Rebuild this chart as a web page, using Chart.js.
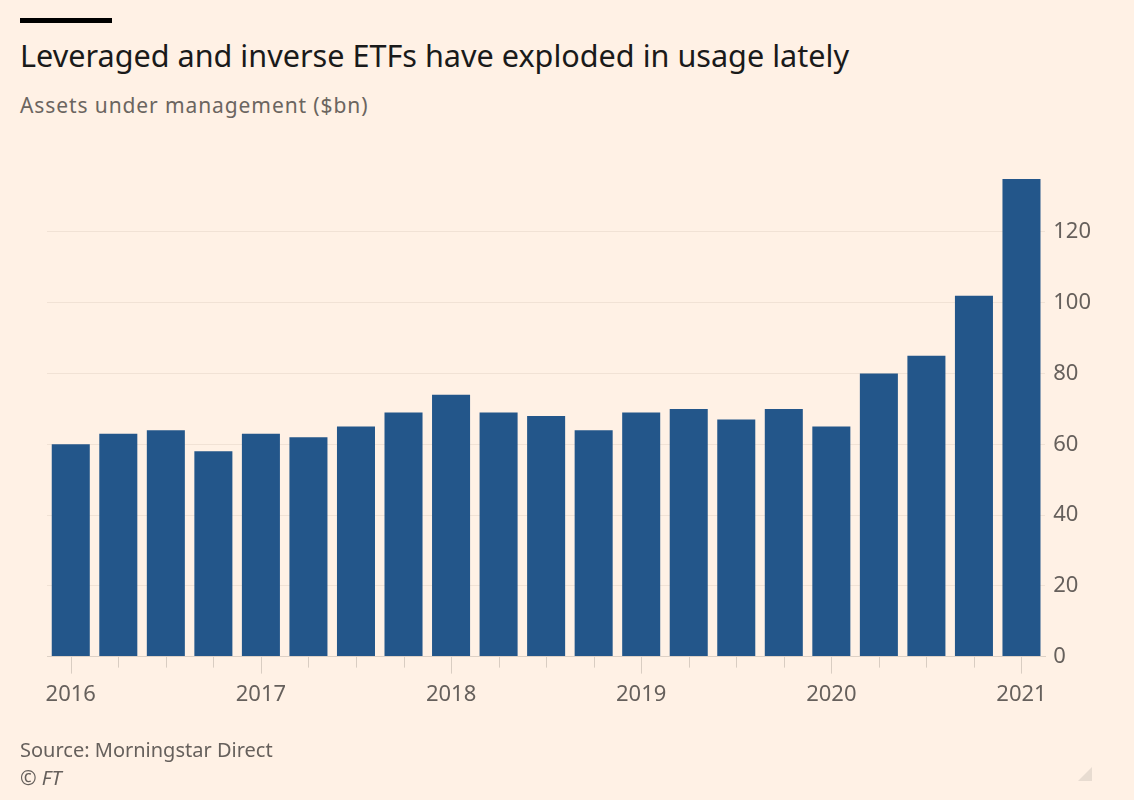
<!DOCTYPE html>
<html>
<head>
<meta charset="utf-8">
<script src="https://cdn.jsdelivr.net/npm/chart.js@4.4.0/dist/chart.umd.min.js"></script>
<style>
  body { margin: 0; background: #fff1e5; width: 1134px; height: 800px; overflow: hidden; position: relative; font-family: "Noto Sans", sans-serif; }
  #bar { position: absolute; left: 20px; top: 18px; width: 92px; height: 5px; background: #000; }
  #title { position: absolute; left: 20px; top: 34px; font-size: 30.6px; color: #1a1a1a; white-space: nowrap; }
  #subtitle { position: absolute; left: 20px; top: 91px; font-size: 21px; color: #6b6560; letter-spacing: 0.9px; }
  #source { position: absolute; left: 20px; top: 736px; font-size: 20px; color: #66605c; }
  #ft { position: absolute; left: 20px; top: 764px; font-size: 20px; color: #66605c; font-style: italic; }
  #corner { position: absolute; left: 1078px; top: 767px; width: 0; height: 0; border-left: 14px solid transparent; border-bottom: 14px solid #e8dcd1; }
  #wrap { position: absolute; left: 0; top: 140px; width: 1134px; height: 601px; }
</style>
</head>
<body>
<div id="bar"></div>
<div id="title">Leveraged and inverse ETFs have exploded in usage lately</div>
<div id="subtitle">Assets under management ($bn)</div>
<div id="wrap"><canvas id="chart"></canvas></div>
<div id="source">Source: Morningstar Direct</div>
<div id="ft">© FT</div>
<div id="corner"></div>
<script>
  // Quarterly data, 2016 Q1 - 2021 Q1
  const quarters = ["2016 Q1", "2016 Q2", "2016 Q3", "2016 Q4",
    "2017 Q1", "2017 Q2", "2017 Q3", "2017 Q4",
    "2018 Q1", "2018 Q2", "2018 Q3", "2018 Q4",
    "2019 Q1", "2019 Q2", "2019 Q3", "2019 Q4",
    "2020 Q1", "2020 Q2", "2020 Q3", "2020 Q4",
    "2021 Q1"];
  const assets = [60, 63, 64, 58, 63, 62, 65, 69, 74, 69, 68, 64, 69, 70, 67, 70, 65, 80, 85, 102, 135];
  const yearLabels = ["2016", "2017", "2018", "2019", "2020", "2021"];
  const yTicks = [0, 20, 40, 60, 80, 100, 120];

  // Draw tick marks under each bar, longer ones at the start of each year
  const tickMarks = {
    id: "tickMarks",
    afterDraw(chart) {
      const x = chart.scales.x;
      const bottom = chart.chartArea.bottom;
      const c = chart.ctx;
      c.save();
      c.strokeStyle = "#d9cdc2";
      c.lineWidth = 1;
      quarters.forEach((q, i) => {
        const px = Math.round(x.getPixelForTick(i)) + 0.5;
        const len = q.endsWith("Q1") ? 17 : 11;
        c.beginPath();
        c.moveTo(px, bottom);
        c.lineTo(px, bottom + len);
        c.stroke();
      });
      c.restore();
    }
  };

  const ctx = document.getElementById("chart").getContext("2d");
  new Chart(ctx, {
    type: "bar",
    data: {
      labels: quarters,
      datasets: [{
        data: assets,
        backgroundColor: "#23568a",
        barPercentage: 0.8,
        categoryPercentage: 1.0
      }]
    },
    options: {
      responsive: true,
      maintainAspectRatio: false,
      animation: false,
      layout: { padding: { left: 47, right: 35, top: 21, bottom: 8 } },
      plugins: { legend: { display: false }, tooltip: { enabled: false } },
      scales: {
        x: {
          grid: { display: false, drawTicks: false },
          border: { display: true, color: "#ddd1c6", width: 1 },
          ticks: {
            autoSkip: false,
            maxRotation: 0,
            padding: 25,
            color: "#66605c",
            font: { family: "Noto Sans", size: 22 },
            callback: function (v, i) {
              const q = quarters[i];
              return q.endsWith("Q1") ? yearLabels[yearLabels.indexOf(q.slice(0, 4))] : "";
            }
          }
        },
        y: {
          position: "right",
          min: 0,
          max: 140,
          afterBuildTicks: function (axis) {
            axis.ticks = yTicks.map(v => ({ value: v }));
          },
          grid: { color: "#f1e2d5", drawTicks: false },
          border: { display: false },
          ticks: {
            padding: 8,
            color: "#66605c",
            font: { family: "Noto Sans", size: 22 }
          }
        }
      }
    },
    plugins: [tickMarks]
  });
</script>
</body>
</html>
